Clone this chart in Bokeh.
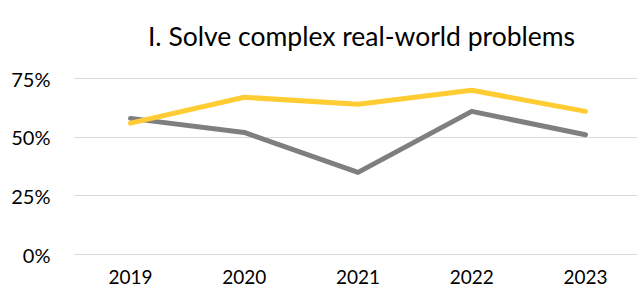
from bokeh.plotting import figure
from bokeh.models import FixedTicker, NumeralTickFormatter, Range1d, Label
from bokeh.core.properties import value
from bokeh.embed import file_html
from bokeh.resources import INLINE

years = [2019, 2020, 2021, 2022, 2023]
year_labels = ["2019", "2020", "2021", "2022", "2023"]
gray_values = [0.58, 0.52, 0.35, 0.61, 0.51]
yellow_values = [0.56, 0.67, 0.64, 0.70, 0.61]
y_ticks = [0, 0.25, 0.5, 0.75]
title_text = "I. Solve complex real-world problems"

FONT = "Lato"

# layout geometry (figure pixels)
W, H = 637, 292
LEFT = 73
ZERO_PX = 254      # y pixel of 0%
TOP_PX = 78        # y pixel of 75%
FIRST_X_PX = 130   # x pixel of first year
STEP_X_PX = 113.75

px_per_unit = (ZERO_PX - TOP_PX) / 0.75
y_top = 0.75 + TOP_PX / px_per_unit
y_bot = -(H - ZERO_PX) / px_per_unit
x_start = years[0] - (FIRST_X_PX - LEFT) / STEP_X_PX
x_end = x_start + (W - LEFT) / STEP_X_PX

def px_to_y(py):
    return 0.75 + (TOP_PX - py) / px_per_unit

def px_to_x(px):
    return x_start + (px - LEFT) / STEP_X_PX

p = figure(width=W, height=H, output_backend="svg", toolbar_location=None,
           x_range=Range1d(x_start, x_end), y_range=Range1d(y_bot, y_top),
           min_border_left=LEFT, min_border_right=0, min_border_top=0, min_border_bottom=0)

p.line(years, gray_values, line_color="#7F7F7F", line_width=5, line_cap="round", line_join="round")
p.line(years, yellow_values, line_color="#FFCC33", line_width=5, line_cap="round", line_join="round")

# category labels along the bottom
p.text(x=years, y=[px_to_y(269)] * len(years), text=year_labels,
       text_font=value(FONT), text_font_size="19px", text_color="#000000",
       text_align="center", text_baseline="top")

title = Label(x=px_to_x(361), y=px_to_y(35), text=title_text,
              text_font=FONT, text_font_size="26.5px", text_color="#000000",
              text_align="center", text_baseline="alphabetic")
p.add_layout(title)

p.outline_line_color = None
p.xgrid.grid_line_color = None
p.ygrid.grid_line_color = "#D9D9D9"
p.ygrid.grid_line_width = 1
p.xaxis.visible = False

p.yaxis.ticker = FixedTicker(ticks=y_ticks)
p.yaxis.formatter = NumeralTickFormatter(format="0%")
p.yaxis.axis_line_color = None
p.yaxis.major_tick_line_color = None
p.yaxis.minor_tick_line_color = None
p.yaxis.major_tick_out = 0
p.yaxis.major_tick_in = 0
p.yaxis.minor_tick_out = 0
p.yaxis.major_label_text_font = FONT
p.yaxis.major_label_text_font_size = "20px"
p.yaxis.major_label_text_color = "#000000"
p.yaxis.major_label_standoff = 23

open("out.html", "w").write(file_html(p, INLINE))
